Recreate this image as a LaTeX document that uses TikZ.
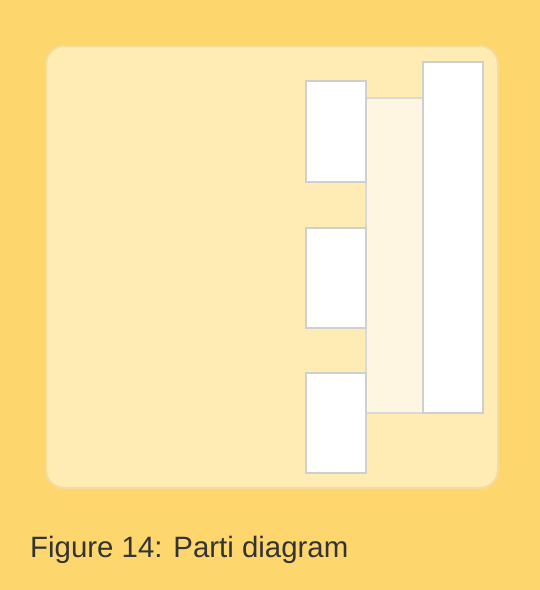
\documentclass[tikz,border=0pt]{standalone}
\usepackage{fontspec}
\setmainfont{Liberation Sans}

\definecolor{sand}{HTML}{FDD66D}
\definecolor{panelfill}{HTML}{FFEBB4}
\definecolor{paneledge}{HTML}{F3DB9E}
\definecolor{stripfill}{HTML}{FFF6E1}
\definecolor{boxedge}{HTML}{CFCFCF}
\definecolor{captext}{HTML}{333333}

\begin{document}
\begin{tikzpicture}[
    x=1pt, y=-1pt,
    panel/.style  = {draw=paneledge, line width=2pt, fill=panelfill, rounded corners=18pt},
    room/.style   = {draw=boxedge, line width=2.6pt, fill=white, inner sep=0pt,
                     minimum width=60pt, minimum height=100pt},
    strip/.style  = {draw=boxedge!80, line width=2.4pt, fill=stripfill, inner sep=0pt,
                     minimum width=57pt, minimum height=315pt},
    figcaption/.style = {font=\fontsize{29.4pt}{32pt}\selectfont, text=captext,
                     inner sep=0pt, anchor=base west}
]
\useasboundingbox (0,0) rectangle (540,590);
\fill[sand] (0,0) rectangle (540,590);

% Site enclosure
\draw[panel] (46,46) rectangle (498,488);

% Circulation strip behind the rooms
\node[strip] (spine) at (394.5,255.5) {};

% Three small rooms along the strip, one tall block behind it
\foreach \i/\y/\h in {A/131.5/101, B/278/100, C/423/100}
    \node[room, minimum height=\h pt] (room\i) at (336,\y) {};
\node[room, minimum height=351pt] (block) at (453,237.5) {};

% Caption
\node[figcaption] (title) at (30,557) {Figure 14: Parti diagram};

\end{tikzpicture}
\end{document}
